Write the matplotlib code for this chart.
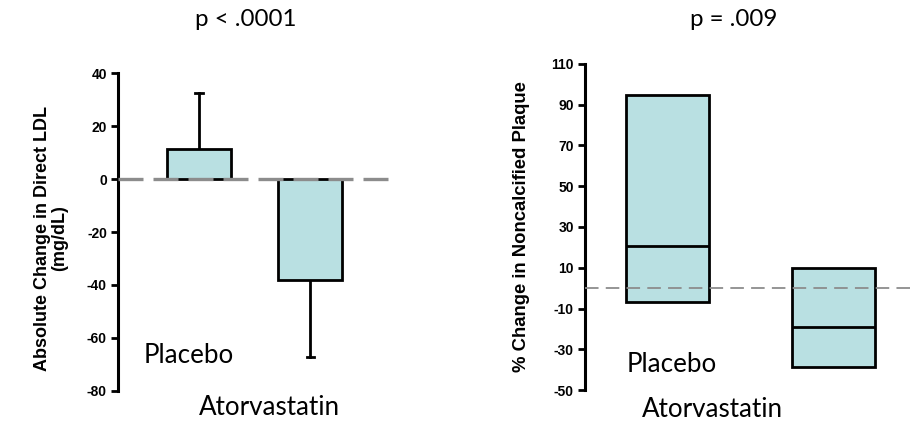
import matplotlib
matplotlib.use("Agg")
import matplotlib.pyplot as plt

plt.rcParams["axes.unicode_minus"] = False

# left panel: absolute change in direct LDL (mean + SD)
groups = ["Placebo", "Atorvastatin"]
ldl_mean = [11.3, -38.3]
ldl_err_end = [32.5, -67.3]

# right panel: % change in noncalcified plaque (box = range, line = median)
plaque_top = [94.8, 9.7]
plaque_median = [20.7, -18.9]
plaque_bottom = [-6.7, -38.9]

left_ticks = [40, 20, 0, -20, -40, -60, -80]
right_ticks = [110, 90, 70, 50, 30, 10, -10, -30, -50]

fill = "#B9E0E2"
dash_gray = "#8C8C8C"
label_font = ["Lato", "DejaVu Sans"]
tick_font = ["Liberation Sans", "DejaVu Sans"]

fig = plt.figure(figsize=(9.17, 4.23), dpi=100)


def style_axis(ax, ticks):
    for s in ["top", "right", "bottom"]:
        ax.spines[s].set_visible(False)
    ax.spines["left"].set_linewidth(2.2)
    ax.set_xticks([])
    ax.set_yticks(ticks)
    ax.tick_params(axis="y", direction="out", length=5, width=2, pad=3)
    for t in ax.get_yticklabels():
        t.set_fontfamily(tick_font)
        t.set_fontweight("bold")
        t.set_fontsize(10)


# ---- left ----
ax1 = fig.add_axes([118 / 917, 1 - 390.7 / 423, 272 / 917, 317.4 / 423])
x = [0, 1]
ax1.bar(x, ldl_mean, width=0.573, color=fill, edgecolor="black", linewidth=2, zorder=2)
for xi, m, e in zip(x, ldl_mean, ldl_err_end):
    ax1.plot([xi, xi], [m, e], color="black", lw=2, zorder=1)
    ax1.plot([xi - 0.035, xi + 0.035], [e, e], color="black", lw=2, zorder=1)
ax1.axhline(0, color=dash_gray, lw=2.4, dashes=(7.5, 3), zorder=3)
ax1.set_xlim(-0.723, 1.712)
ax1.set_ylim(-80, 40)
style_axis(ax1, left_ticks)
ax1.set_ylabel("Absolute Change in Direct LDL\n(mg/dL)", fontfamily=tick_font,
               fontweight="bold", fontsize=13, linespacing=1.0)
ax1.yaxis.set_label_coords(-0.185, 0.48)
ax1.text(-0.09, -66.7, groups[0], family=label_font, fontsize=18.7, ha="center", va="center")
ax1.text(0.637, -86.2, groups[1], family=label_font, fontsize=18.7, ha="center", va="center",
         clip_on=False)
fig.text(246 / 917, 1 - 20 / 423, "p < .0001", family=label_font, fontsize=17.4,
         ha="center", va="center")

# ---- right ----
ax2 = fig.add_axes([585 / 917, 1 - 390 / 423, 332 / 917, 326 / 423])
heights = [t - b for t, b in zip(plaque_top, plaque_bottom)]
ax2.bar(x, heights, bottom=plaque_bottom, width=0.5, color=fill, edgecolor="black",
        linewidth=2, zorder=2)
ax2.hlines(plaque_median, [xi - 0.25 for xi in x], [xi + 0.25 for xi in x],
           color="black", lw=2, zorder=2)
ax2.axhline(0, color=dash_gray, lw=1.3, dashes=(7.5, 4), zorder=3)
ax2.set_xlim(-0.5, 1.505)
ax2.set_ylim(-50, 110)
style_axis(ax2, right_ticks)
ax2.set_ylabel("% Change in Noncalcified Plaque", fontfamily=tick_font,
               fontweight="bold", fontsize=13.3)
ax2.yaxis.set_label_coords(-0.165, 0.5)
ax2.text(0.023, -37.7, groups[0], family=label_font, fontsize=18.7, ha="center", va="center")
ax2.text(0.269, -59.8, groups[1], family=label_font, fontsize=18.7, ha="center", va="center",
         clip_on=False)
fig.text(734 / 917, 1 - 20 / 423, "p = .009", family=label_font, fontsize=17.4,
         ha="center", va="center")

fig.savefig("out.png", dpi=100)
